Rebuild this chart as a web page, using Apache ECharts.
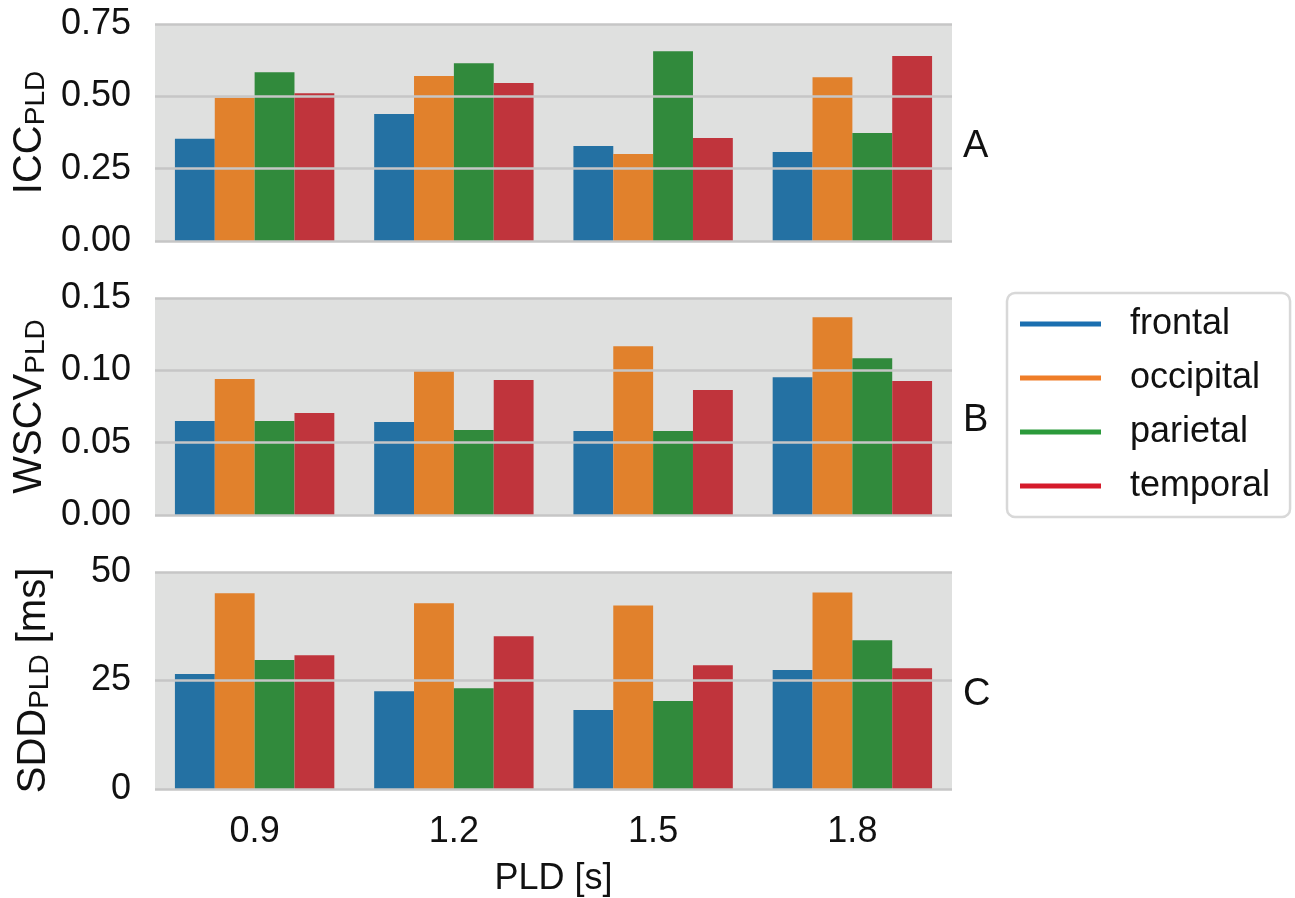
<!DOCTYPE html>
<html>
<head>
<meta charset="utf-8">
<script src="https://cdn.jsdelivr.net/npm/echarts@6/dist/echarts.min.js"></script>
<style>
  html, body { margin: 0; padding: 0; background: #fff; }
  #chart { width: 1295px; height: 898px; }
</style>
</head>
<body>
<div id="chart"></div>
<script>
// PLD values on the x axis
const plds = ['0.9', '1.2', '1.5', '1.8'];
const regions = ['frontal', 'occipital', 'parietal', 'temporal'];

// panel A: ICC
const iccFrontal = [0.353, 0.439, 0.328, 0.308];
const iccOccipital = [0.495, 0.570, 0.301, 0.566];
const iccParietal = [0.583, 0.614, 0.656, 0.373];
const iccTemporal = [0.511, 0.546, 0.356, 0.639];

// panel B: WSCV
const wscvFrontal = [0.065, 0.0643, 0.0581, 0.0953];
const wscvOccipital = [0.094, 0.0995, 0.1167, 0.1367];
const wscvParietal = [0.065, 0.0588, 0.0581, 0.1084];
const wscvTemporal = [0.0705, 0.0933, 0.0864, 0.0926];

// panel C: SDD in ms
const sddFrontal = [26.5, 22.5, 18.2, 27.4];
const sddOccipital = [45.1, 42.8, 42.3, 45.3];
const sddParietal = [29.7, 23.2, 20.3, 34.3];
const sddTemporal = [30.8, 35.2, 28.5, 27.8];

const panels = [
  { letter: 'A', name: '{m|ICC}{s|PLD}', max: 0.75, step: 0.25, digits: 2,
    data: [iccFrontal, iccOccipital, iccParietal, iccTemporal] },
  { letter: 'B', name: '{m|WSCV}{s|PLD}', max: 0.15, step: 0.05, digits: 2,
    data: [wscvFrontal, wscvOccipital, wscvParietal, wscvTemporal] },
  { letter: 'C', name: '{m|SDD}{s|PLD}{m| [ms]}', max: 50, step: 25, digits: 0,
    data: [sddFrontal, sddOccipital, sddParietal, sddTemporal] },
];

const barColors = ['#2471a3', '#e1812c', '#318a3c', '#c0343c'];
const legendColors = ['#1b6fb0', '#ef7d28', '#2b9a3b', '#d51b2b'];
const font = '"Liberation Sans", Arial, sans-serif';
const gridTops = [24, 298, 572];
const gridH = 217;

const myChart = echarts.init(document.getElementById('chart'));

// main text + lowered subscript for the y axis names
const rich = {
  m: { fontSize: 40, lineHeight: 48, color: '#111', fontFamily: font, verticalAlign: 'bottom' },
  s: { fontSize: 28, lineHeight: 14, color: '#111', fontFamily: font, verticalAlign: 'bottom' },
};

myChart.setOption({
  animation: false,
  textStyle: { fontFamily: font },
  title: panels.map((p, i) => ({
    text: p.letter,
    left: 958,
    top: gridTops[i] + 99,
    textStyle: { fontSize: 38, fontWeight: 'normal', color: '#111', fontFamily: font },
  })),
  legend: {
    orient: 'vertical',
    left: 1007,
    top: 293,
    padding: [11, 20, 11, 13],
    borderColor: '#d8d8d8',
    borderWidth: 2.5,
    borderRadius: 8,
    backgroundColor: '#fff',
    itemWidth: 81,
    itemHeight: 5,
    itemGap: 14,
    icon: 'rect',
    textStyle: { fontSize: 36, color: '#111', lineHeight: 40, padding: [0, 0, 0, 24], fontFamily: font },
    data: regions.map((r, i) => ({ name: r, itemStyle: { color: legendColors[i] } })),
  },
  grid: panels.map((p, i) => ({
    left: 155,
    right: 343,
    top: gridTops[i],
    height: gridH,
    show: true,
    backgroundColor: '#dfe0df',
    borderWidth: 0,
  })),
  xAxis: panels.map((p, i) => ({
    type: 'category',
    gridIndex: i,
    data: plds,
    axisLine: { show: false },
    axisTick: { show: false },
    axisLabel: {
      show: i === 2,
      fontSize: 36,
      color: '#111',
      margin: 25,
    },
    name: i === 2 ? 'PLD [s]' : '',
    nameLocation: 'middle',
    nameGap: 72,
    nameTextStyle: { fontSize: 36, color: '#111' },
  })),
  yAxis: panels.map((p, i) => ({
    type: 'value',
    gridIndex: i,
    min: 0,
    max: p.max,
    interval: p.step,
    z: 3,
    axisLine: { show: false },
    axisTick: { show: false },
    axisLabel: {
      fontSize: 36,
      color: '#111',
      margin: 24,
      formatter: (v) => v.toFixed(p.digits),
    },
    splitLine: { show: true, lineStyle: { color: '#c6c6c6', width: 2.5 } },
    name: p.name,
    nameLocation: 'middle',
    nameRotate: 90,
    nameGap: 101,
    nameTextStyle: { rich: rich },
  })),
  series: panels.flatMap((p, i) =>
    regions.map((r, j) => ({
      name: r,
      type: 'bar',
      xAxisIndex: i,
      yAxisIndex: i,
      data: p.data[j],
      barGap: '0%',
      barCategoryGap: '20%',
      itemStyle: { color: barColors[j] },
      emphasis: { disabled: true },
    }))
  ),
});
</script>
</body>
</html>
